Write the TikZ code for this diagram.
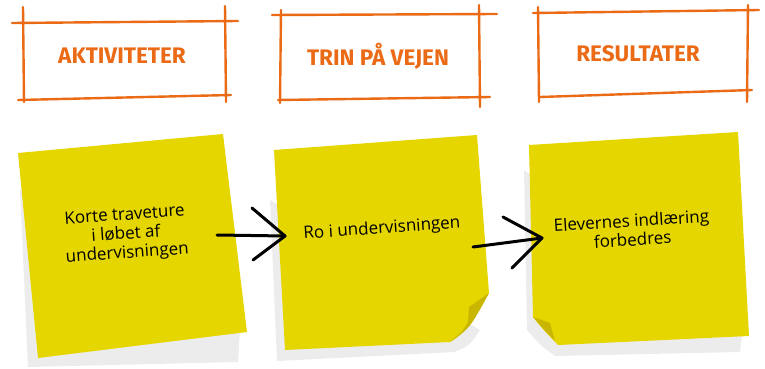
\documentclass[tikz,border=0pt]{standalone}
\usepackage{fontspec}
\setmainfont{Open Sans}
\newfontfamily\headfont{Fira Sans}
\definecolor{hdorange}{RGB}{234,106,22}
\definecolor{noteyellow}{RGB}{230,214,0}
\definecolor{notefold}{RGB}{200,182,0}
\definecolor{noteshadow}{RGB}{236,236,236}
\tikzset{
 sketch/.style={draw=hdorange, line width=2.4pt, line cap=round},
 headtext/.style={text=hdorange, font=\headfont\bfseries\fontsize{22.5}{26}\selectfont},
 note/.style={fill=noteyellow},
 noteshade/.style={fill=noteshadow},
 fold/.style={fill=notefold},
 notetext/.style={font=\fontsize{17}{19}\selectfont, align=center, text=black, inner sep=1pt},
 arrowline/.style={draw=black, line width=3pt, line cap=round, line join=round},
}
\begin{document}
\begin{tikzpicture}[x=1pt,y=-1pt]
\useasboundingbox (0,0) rectangle (765,369);
% header boxes
\draw[sketch] (12,23) -- (238,21);
\draw[sketch] (23,7) -- (24,102);
\draw[sketch] (225,6) -- (226,102);
\draw[sketch] (18,100) -- (231,95);
\node[headtext] (h1) at (122,56) {AKTIVITETER};
\draw[sketch] (272,15) -- (497,14);
\draw[sketch] (281,10) -- (280,103);
\draw[sketch] (479,5) -- (480,107);
\draw[sketch] (278,100) -- (490,97);
\node[headtext] (h2) at (378,56) {TRIN PÅ VEJEN};
\draw[sketch] (533,13) -- (759,10);
\draw[sketch] (538,7) -- (539,102);
\draw[sketch] (748,5) -- (747,102);
\draw[sketch] (540,97) -- (752,90);
\node[headtext] (h3) at (638,54) {RESULTATER};
% note 1
\fill[noteshade] (20,190) -- (28,367) -- (238,362) -- (240,330) -- cycle;
\fill[note] (18,153) -- (223,134) -- (247,332) -- (38,358) -- cycle;
\node[notetext, rotate=4] (t1) at (126,235) {Korte traveture\\i løbet af\\undervisningen};
% note 2
\fill[noteshade] (270,200) -- (277,361) -- (455,352) .. controls (470,345) .. (480,330) -- cycle;
\fill[note] (274,150) -- (477,135) -- (489,293) .. controls (476,316) and (465,334) .. (450,342) -- (285,350) -- cycle;
\fill[fold] (489,293) -- (469,307) -- (468,322) .. controls (463,331) .. (450,342) .. controls (470,328) .. (489,293) -- cycle;
\node[notetext, rotate=4] (t2) at (382,229) {Ro i undervisningen};
% note 3
\fill[noteshade] (524,170) -- (527,330) .. controls (540,345) .. (555,356) -- (740,352) -- (742,336) -- cycle;
\fill[note] (529,145) -- (738,132) -- (749,336) -- (558,345) .. controls (548,335) and (540,326) .. (533,317) -- cycle;
\fill[fold] (533,317) -- (550,323) -- (555,341) .. controls (545,331) .. (533,317) -- cycle;
\node[notetext, rotate=3.5] (t3) at (632,230) {Elevernes indlæring\\forbedres};
% arrows
\coordinate (a1s) at (217,235);
\coordinate (a1e) at (285,236);
\coordinate (a1u) at (252,208);
\coordinate (a1l) at (253,260);
\draw[arrowline] (a1s) -- (a1e);
\draw[arrowline] (a1u) -- (a1e) -- (a1l);
\coordinate (a2s) at (473,247);
\coordinate (a2e) at (542,238);
\coordinate (a2u) at (503,217);
\coordinate (a2l) at (512,268);
\draw[arrowline] (a2s) -- (a2e);
\draw[arrowline] (a2u) -- (a2e) -- (a2l);
\end{tikzpicture}
\end{document}
